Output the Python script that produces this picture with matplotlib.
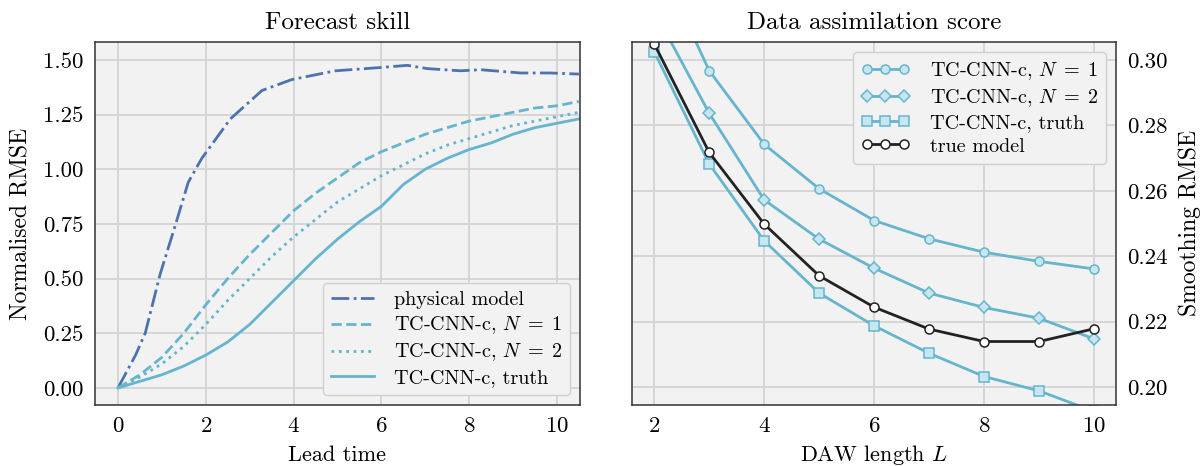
import matplotlib
matplotlib.use('Agg')
import matplotlib.pyplot as plt

# forecast skill data
phys_t = [0, 0.4, 0.62, 0.96, 1.3, 1.6, 1.91, 2.56, 3.28, 3.96, 4.95, 5.98, 6.59, 7.05, 7.8, 8.26, 9.18, 9.86, 10.5]
phys_rmse = [0, 0.15, 0.25, 0.52, 0.74, 0.94, 1.05, 1.23, 1.36, 1.41, 1.45, 1.465, 1.475, 1.46, 1.45, 1.455, 1.44, 1.44, 1.435]

lead_t = [0, 0.5, 1, 1.5, 2, 2.5, 3, 3.5, 4, 4.5, 5, 5.5, 6, 6.5, 7, 7.5, 8, 8.5, 9, 9.5, 10, 10.5]
n1_rmse = [0, 0.06, 0.14, 0.25, 0.38, 0.5, 0.61, 0.71, 0.81, 0.89, 0.96, 1.03, 1.08, 1.12, 1.16, 1.19, 1.22, 1.24, 1.26, 1.28, 1.29, 1.31]
n2_rmse = [0, 0.05, 0.11, 0.19, 0.29, 0.4, 0.5, 0.6, 0.69, 0.77, 0.85, 0.91, 0.97, 1.02, 1.07, 1.11, 1.14, 1.17, 1.2, 1.22, 1.24, 1.26]
truth_rmse = [0, 0.03, 0.06, 0.1, 0.15, 0.21, 0.29, 0.39, 0.49, 0.59, 0.68, 0.76, 0.83, 0.93, 1.0, 1.05, 1.09, 1.12, 1.16, 1.19, 1.21, 1.23]

# data assimilation data
daw = [2, 3, 4, 5, 6, 7, 8, 9, 10]
da_n1 = [0.333, 0.2967, 0.2742, 0.2606, 0.2509, 0.2453, 0.2412, 0.2384, 0.2361]
da_n2 = [0.315, 0.2837, 0.2572, 0.2452, 0.2363, 0.2287, 0.2243, 0.2210, 0.2147]
da_truth = [0.3025, 0.2682, 0.2447, 0.2287, 0.2187, 0.2103, 0.2032, 0.1988, 0.1925]
da_true_model = [0.3049, 0.2717, 0.2498, 0.2340, 0.2244, 0.2177, 0.2139, 0.2139, 0.2178]

plt.rcParams['font.family'] = ['cmr10']
plt.rcParams['mathtext.fontset'] = 'cm'
plt.rcParams['axes.formatter.use_mathtext'] = True
plt.rcParams['font.size'] = 15

blue = '#4C72B0'
cyan = '#64B5CD'
light = '#c7e6ef'
bg = '#f2f2f2'
gridc = '#d6d6d6'

fig = plt.figure(figsize=(12.02, 4.66), dpi=100)
ax1 = fig.add_axes([0.079, 0.131, 0.4035, 0.779])
ax2 = fig.add_axes([0.526, 0.131, 0.4025, 0.779])

for ax in (ax1, ax2):
    ax.set_facecolor(bg)
    ax.grid(True, color=gridc, linewidth=1.4)
    ax.set_axisbelow(True)
    for s in ax.spines.values():
        s.set_color('#333333')
        s.set_linewidth(1.1)
    ax.tick_params(length=0, pad=8, labelsize=16.5)

ax1.plot(phys_t, phys_rmse, color=blue, ls='-.', lw=2, label='physical model')
ax1.plot(lead_t, n1_rmse, color=cyan, ls='--', lw=2, label='TC-CNN-c, $N\\;=\\;1$')
ax1.plot(lead_t, n2_rmse, color=cyan, ls=':', lw=2, label='TC-CNN-c, $N\\;=\\;2$')
ax1.plot(lead_t, truth_rmse, color=cyan, ls='-', lw=2, label='TC-CNN-c, truth')
ax1.set_xlim(-0.525, 10.525)
ax1.set_ylim(-0.078, 1.582)
ax1.set_xticks([0, 2, 4, 6, 8, 10])
ax1.set_yticks([0, 0.25, 0.5, 0.75, 1.0, 1.25, 1.5])
ax1.yaxis.set_major_formatter(matplotlib.ticker.FormatStrFormatter('%.2f'))
ax1.set_xlabel('Lead time', fontsize=16, labelpad=7)
ax1.set_ylabel('Normalised RMSE', fontsize=17, labelpad=8)
ax1.set_title('Forecast skill', fontsize=18, pad=9)
ax1.legend(loc='lower right', facecolor=bg, edgecolor='#d0d0d0', framealpha=1, fontsize=14.5,
           handlelength=2.1, borderpad=0.4, labelspacing=0.26, handletextpad=1.0)

mk = dict(lw=2, ms=6.5, mew=1.1)
ax2.plot(daw, da_n1, color=cyan, marker='o', mfc=light, mec=cyan, label='TC-CNN-c, $N\\;=\\;1$', **mk)
ax2.plot(daw, da_n2, color=cyan, marker='D', mfc=light, mec=cyan, label='TC-CNN-c, $N\\;=\\;2$', **mk)
ax2.plot(daw, da_truth, color=cyan, marker='s', mfc=light, mec=cyan, label='TC-CNN-c, truth', **mk)
ax2.plot(daw, da_true_model, color='#222222', marker='o', mfc='white', mec='#222222', label='true model', **mk)
ax2.set_xlim(1.6, 10.4)
ax2.set_ylim(0.1945, 0.3055)
ax2.set_xticks([2, 4, 6, 8, 10])
ax2.set_yticks([0.20, 0.22, 0.24, 0.26, 0.28, 0.30])
ax2.yaxis.set_major_formatter(matplotlib.ticker.FormatStrFormatter('%.2f'))
ax2.yaxis.tick_right()
ax2.yaxis.set_label_position('right')
ax2.set_xlabel('DAW length $L$', fontsize=16, labelpad=5)
ax2.set_ylabel('Smoothing RMSE', fontsize=17, labelpad=8)
ax2.set_title('Data assimilation score', fontsize=18, pad=9)
ax2.legend(loc='upper right', facecolor=bg, edgecolor='#d0d0d0', framealpha=1, fontsize=14.5,
           numpoints=3, handlelength=2.4, borderpad=0.4, labelspacing=0.26, handletextpad=1.0)

fig.savefig('out.png', dpi=100)
